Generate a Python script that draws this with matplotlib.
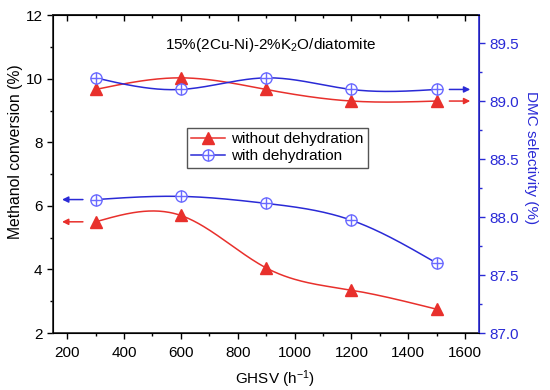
import numpy as np
import matplotlib.pyplot as plt
from matplotlib.legend_handler import HandlerTuple

plt.rcParams['font.family'] = ['Liberation Sans', 'DejaVu Sans']
plt.rcParams['mathtext.fontset'] = 'custom'
plt.rcParams['mathtext.rm'] = 'Liberation Sans'
plt.rcParams['mathtext.it'] = 'Liberation Sans:italic'

ghsv = [300, 600, 900, 1200, 1500]
conv_without = [5.5, 5.7, 4.05, 3.35, 2.75]
conv_with = [6.2, 6.3, 6.08, 5.55, 4.2]
sel_without = [89.1, 89.2, 89.1, 89.0, 89.0]
sel_with = [89.2, 89.1, 89.2, 89.1, 89.1]

red = '#e8302c'
blue = '#2a2ad6'
lblue = '#6a6aff'


def spline(x, y, n=200):
    # natural cubic spline, like Origin's spline connect
    x = np.asarray(x, float)
    y = np.asarray(y, float)
    k = len(x)
    h = np.diff(x)
    A = np.zeros((k, k))
    b = np.zeros(k)
    A[0, 0] = A[-1, -1] = 1
    for i in range(1, k - 1):
        A[i, i - 1] = h[i - 1]
        A[i, i] = 2 * (h[i - 1] + h[i])
        A[i, i + 1] = h[i]
        b[i] = 6 * ((y[i + 1] - y[i]) / h[i] - (y[i] - y[i - 1]) / h[i - 1])
    M = np.linalg.solve(A, b)
    xs = np.linspace(x[0], x[-1], n)
    idx = np.clip(np.searchsorted(x, xs) - 1, 0, k - 2)
    x0, x1 = x[idx], x[idx + 1]
    hh = x1 - x0
    ys = (M[idx] * (x1 - xs) ** 3 / (6 * hh) + M[idx + 1] * (xs - x0) ** 3 / (6 * hh)
          + (y[idx] / hh - M[idx] * hh / 6) * (x1 - xs)
          + (y[idx + 1] / hh - M[idx + 1] * hh / 6) * (xs - x0))
    return xs, ys


fig = plt.figure(figsize=(5.5, 3.9), dpi=100)
ax = fig.add_axes([0.0964, 0.146, 0.775, 0.815])
ax2 = ax.twinx()

# left axis: methanol conversion
xs, ys = spline(ghsv, conv_without)
ax.plot(xs, ys, color=red, lw=1.1)
ax.plot(ghsv, conv_without, ls='', marker='^', ms=8, color=red)
xs, ys = spline(ghsv, conv_with)
ax.plot(xs, ys, color=blue, lw=1.1)
ax.plot(ghsv, conv_with, ls='', marker='o', ms=8, mfc='white', mec=lblue, mew=1.0)
ax.plot(ghsv, conv_with, ls='', marker='+', ms=8, color=lblue, mew=1.0)

# right axis: DMC selectivity
xs, ys = spline(ghsv, sel_without)
ax2.plot(xs, ys, color=red, lw=1.1)
ax2.plot(ghsv, sel_without, ls='', marker='^', ms=8, color=red)
xs, ys = spline(ghsv, sel_with)
ax2.plot(xs, ys, color=blue, lw=1.1)
ax2.plot(ghsv, sel_with, ls='', marker='o', ms=8, mfc='white', mec=lblue, mew=1.0)
ax2.plot(ghsv, sel_with, ls='', marker='+', ms=8, color=lblue, mew=1.0)

# arrows pointing to the axis each pair belongs to
for yv, c in [(conv_without[0], red), (conv_with[0], blue)]:
    ax.annotate('', xy=(172, yv), xytext=(265, yv),
                arrowprops=dict(arrowstyle='-|>', color=c, lw=1.1, mutation_scale=9))
for yv, c in [(sel_without[-1], red), (sel_with[-1], blue)]:
    ax2.annotate('', xy=(1628, yv), xytext=(1535, yv),
                 arrowprops=dict(arrowstyle='-|>', color=c, lw=1.1, mutation_scale=9))

ax.set_xlim(150, 1650)
ax.set_ylim(2, 12)
ax2.set_ylim(87.0, 89.74)
major_x = [200, 400, 600, 800, 1000, 1200, 1400, 1600]
minor_x = [300, 500, 700, 900, 1100, 1300, 1500]
ax.set_xticks(major_x)
ax.set_xticks(minor_x, minor=True)
ax.set_yticks([2, 4, 6, 8, 10, 12])
ax.set_yticks([3, 5, 7, 9, 11], minor=True)
ax2.set_yticks([87.0, 87.5, 88.0, 88.5, 89.0, 89.5])
ax2.set_yticks([87.25, 87.75, 88.25, 88.75, 89.25], minor=True)
ax2.set_yticklabels(['87.0', '87.5', '88.0', '88.5', '89.0', '89.5'])

ax.tick_params(axis='both', which='both', direction='out', labelsize=11)
ax.tick_params(which='major', length=4, width=1)
ax.tick_params(which='minor', length=2.5, width=1)
ax.tick_params(axis='x', pad=5)
top = ax.secondary_xaxis('top')
top.set_xticks(major_x)
top.set_xticks(minor_x, minor=True)
top.tick_params(which='both', direction='in', labeltop=False, width=1)
top.tick_params(which='major', length=4)
top.tick_params(which='minor', length=2.5)
top.spines['top'].set_linewidth(1.2)
top.spines['top'].set_color('#222222')

ax2.tick_params(axis='y', which='both', direction='out', colors=blue, labelsize=11)
ax2.tick_params(which='major', length=4, width=1)
ax2.tick_params(which='minor', length=2.5, width=1)
ax2.spines['right'].set_color(blue)
ax2.spines['right'].set_linewidth(1.2)
for s in ['left', 'bottom', 'top']:
    ax.spines[s].set_linewidth(1.2)
    ax.spines[s].set_color('#222222')

ax.set_xlabel('GHSV (h$^{-1}$)', fontsize=11)
ax.xaxis.set_label_coords(0.52, -0.11)
ax.set_ylabel('Methanol conversion (%)', fontsize=11.3)
ax.yaxis.set_label_coords(-0.07, 0.572)
ax2.set_ylabel('DMC selectivity (%)', fontsize=11, color=blue, rotation=270)
ax2.yaxis.set_label_coords(1.138, 0.553)

ax.text(914, 11.06, '15%(2Cu-Ni)-2%K$_2$O/diatomite', ha='center', va='center', fontsize=11)

l_red, = ax.plot([], [], color=red, lw=1.1, marker='^', ms=8)
l_bl, = ax.plot([], [], color=blue, lw=1.1, marker='o', ms=8, mfc='white', mec=lblue)
l_pl, = ax.plot([], [], ls='', marker='+', ms=8, color=lblue)
ax.legend([l_red, (l_bl, l_pl)], ['without dehydration', 'with dehydration'],
          handler_map={tuple: HandlerTuple(ndivide=1, pad=0)},
          loc='upper left', bbox_to_anchor=(0.296, 0.67), fontsize=11,
          fancybox=False, edgecolor='#555555', framealpha=1,
          handlelength=2.2, borderpad=0.3, labelspacing=0.2, handletextpad=0.4)

fig.savefig('out.png', dpi=100)
